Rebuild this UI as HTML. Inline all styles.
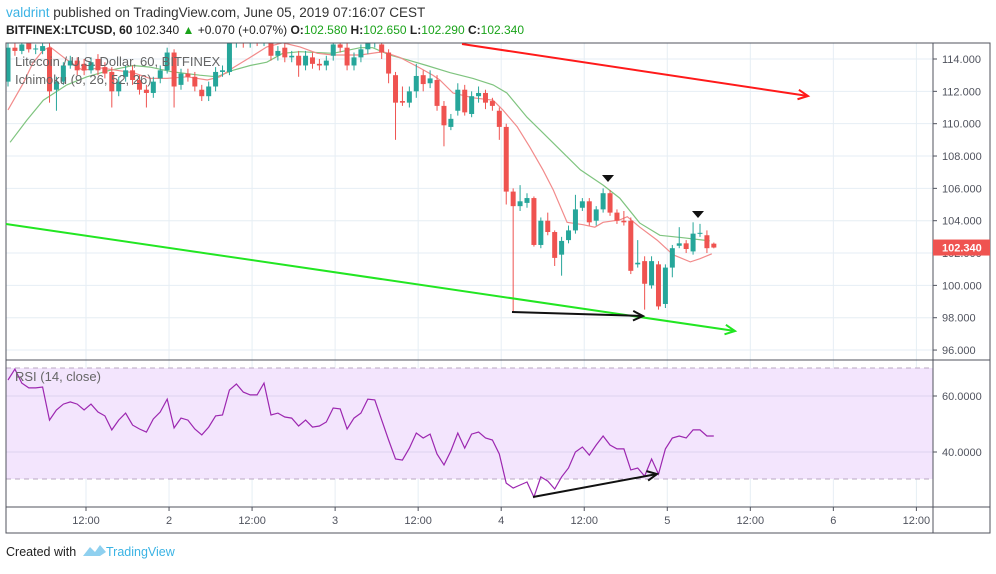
<!DOCTYPE html>
<html><head><meta charset="utf-8"><style>
body{margin:0;background:#fff;width:996px;height:569px;overflow:hidden;font-family:"Liberation Sans",sans-serif}
svg text{font-family:"Liberation Sans",sans-serif}
</style></head><body>
<svg id="c" width="996" height="569" xmlns="http://www.w3.org/2000/svg">
<defs>
<clipPath id="mainClip"><rect x="6" y="43" width="927" height="317"/></clipPath>
<clipPath id="rsiClip"><rect x="6" y="360" width="927" height="147"/></clipPath>
</defs>
<rect x="0" y="0" width="996" height="569" fill="#fff"/>
<text x="6" y="17" font-size="13.5"><tspan fill="#3bb3e4">valdrint</tspan><tspan fill="#333"> published on TradingView.com, June 05, 2019 07:16:07 CEST</tspan></text>
<text x="6" y="34" font-size="12" fill="#222"><tspan font-weight="bold">BITFINEX:LTCUSD, 60</tspan><tspan> 102.340 </tspan><tspan fill="#1aa31a">▲</tspan><tspan> +0.070 (+0.07%) </tspan><tspan font-weight="bold">O:</tspan><tspan fill="#1aa31a">102.580</tspan><tspan font-weight="bold"> H:</tspan><tspan fill="#1aa31a">102.650</tspan><tspan font-weight="bold"> L:</tspan><tspan fill="#1aa31a">102.290</tspan><tspan font-weight="bold"> C:</tspan><tspan fill="#1aa31a">102.340</tspan></text>
<g id="grid"></g>
<rect x="6" y="368" width="927" height="111" fill="#f3e5fd"/>
<line x1="6" y1="368" x2="933" y2="368" stroke="#b9a8c2" stroke-dasharray="5,4"/>
<line x1="6" y1="479" x2="933" y2="479" stroke="#b9a8c2" stroke-dasharray="5,4"/>
<g id="rsigrid"></g>
<g id="main" clip-path="url(#mainClip)"></g>
<g id="rsi" clip-path="url(#rsiClip)"></g>
<g id="axes"></g>
<rect x="6" y="43" width="984" height="490" fill="none" stroke="#50535e"/>
<line x1="933" y1="43" x2="933" y2="533" stroke="#50535e"/>
<line x1="6" y1="360" x2="990" y2="360" stroke="#50535e"/>
<line x1="6" y1="507" x2="990" y2="507" stroke="#50535e"/>
<text x="15" y="66" font-size="13" fill="#666">Litecoin / U.S. Dollar, 60, BITFINEX</text>
<text x="15" y="84" font-size="13" fill="#666">Ichimoku (9, 26, 52, 26)</text>
<text x="15" y="381" font-size="13" fill="#666">RSI (14, close)</text>
<text x="6" y="556" font-size="12.5" fill="#222">Created with</text>
<g><path d="M83 556 L90 547 L95 552 L100 545 L106 552 L100 556 Z" fill="#8fd0ef"/><text x="106" y="556" font-size="12.5" fill="#3bb3e4">TradingView</text></g>
</svg>
<script>
const opens=[112.6,114.7,114.5,115,114.6,114.5,114.7,112.1,112.6,113.6,113.9,113.7,113.3,114.0,113.5,113.2,112.0,112.9,113.3,112.7,112.1,111.9,112.8,113.3,114.4,112.4,113.1,112.9,112.1,111.7,112.3,113.2,113.2,115,115.3,115,115.2,115.1,115,114.2,114.7,114.1,114.2,113.6,114.1,113.7,113.6,114.2,114.9,114.7,113.6,114.1,114.6,115.0,114.9,114.4,113.0,111.4,111.3,112.0,113.0,112.5,112.7,111.1,109.8,110.8,112.1,110.6,111.7,111.9,111.4,110.8,109.8,105.8,104.9,105.1,105.4,102.5,104.0,103.3,101.9,102.8,103.4,104.8,105.2,104.0,104.7,105.7,104.5,104.0,104.0,101.3,101.5,100.0,101.3,98.85,101.1,102.45,102.6,102.1,103.2,103.1,102.58];
const closes=[114.7,114.5,114.9,114.6,114.65,114.8,112.0,112.6,113.6,113.9,113.3,113.3,113.8,113.3,113.1,112.0,112.6,113.3,112.7,112.1,111.9,112.6,113.3,114.4,112.3,113.1,112.9,112.3,111.7,112.3,113.2,113.3,115.0,115.3,115.0,115.2,115.1,115.2,114.2,114.5,114.1,114.2,113.6,114.2,113.7,113.6,113.9,114.9,114.7,113.6,114.1,114.6,115.0,115.1,114.4,113.1,111.3,111.3,112.0,112.95,112.45,112.8,111.1,109.9,110.3,112.1,110.7,111.7,111.9,111.3,111.1,109.8,105.8,104.9,105.2,105.4,102.5,104.0,103.3,101.7,102.75,103.4,104.7,105.2,103.9,104.7,105.7,104.5,104.0,103.9,100.9,101.4,100.1,101.5,98.7,101.1,102.3,102.6,102.25,103.2,103.25,102.3,102.34];
const highs=[115.2,115.1,115.2,115.3,114.9,115.2,115.0,112.9,113.8,114.2,114.1,114.0,114.1,114.3,113.8,113.5,112.9,113.6,113.6,113.0,112.4,112.9,113.6,114.7,114.6,113.4,113.4,113.2,112.4,112.6,113.5,113.6,115.4,115.6,115.6,115.5,115.5,115.5,115.3,114.8,115.0,114.5,114.5,114.5,114.4,114.0,114.2,115.2,115.2,115.0,114.4,114.9,115.3,115.4,115.2,114.6,113.2,112.3,112.3,113.7,113.3,113.3,113.0,111.4,110.6,112.5,112.4,112.0,112.3,112.1,111.6,111.0,110.0,106.0,106.2,105.7,105.5,104.2,104.5,103.4,103.0,103.7,105.6,105.4,105.4,104.9,106.0,105.9,104.7,104.6,104.2,102.8,101.8,101.8,101.5,101.3,102.5,103.6,102.8,103.9,103.8,103.4,102.65];
const lows=[112.3,114.2,114.3,114.4,114.3,114.3,111.3,110.8,112.4,113.4,113.0,113.0,113.1,113.0,112.8,111.0,111.7,112.6,112.4,111.8,111.0,111.6,112.5,113.1,111.0,112.1,112.6,112.0,111.4,111.4,112.0,112.9,113.0,114.7,114.7,114.7,114.8,114.8,113.9,113.9,113.8,113.8,112.9,113.3,113.4,113.3,113.3,113.9,114.4,113.3,113.3,113.8,114.3,114.7,114.0,112.5,109.0,111.1,111.0,111.6,112.0,112.2,110.8,108.6,109.6,110.5,110.5,110.4,111.3,110.9,110.8,109.0,105.0,98.3,104.6,104.8,102.4,102.3,103.1,101.2,100.6,102.6,103.2,104.6,103.7,103.7,104.5,104.3,103.8,103.7,100.7,101.1,98.5,99.8,98.5,98.6,100.5,102.3,102.0,101.9,103.0,102.0,102.29];
const tenkanT=[0,2.2,3.6,5.1,6.1,8.5,10.8,13.3,18.1,20.5,23,25.9,28.8,30.6,32.5,35,37.4,39.7,42.2,44.7,47,50.9,54.2,56.6,59.5,61.4,62.4,64.3,67.2,70.1,71.5,73.6,75.4,77.3,78.8,80.8,83.1,84.8,86,88.4,89.5,91.3,93.8,96.1,98.6,100,101.7];
const tenkanV=[110.85,112.5,113.75,114.55,114.75,113.95,113.3,113.45,113.15,112.8,112.8,112.9,112.7,112.9,113.45,114.1,114.75,115.0,114.75,114.35,114.25,114.25,114.45,114.1,113.45,113.0,112.7,111.9,111.6,111.45,110.85,109.8,108.55,107.15,105.9,103.9,103.75,103.6,103.9,104.05,104.25,103.6,102.8,101.9,101.45,101.65,101.95];
const kijunT=[0.3,2.7,5.1,8.5,11.4,14.7,18.1,20.5,23.8,27.7,30.2,32.5,35,37.4,39.7,42.2,47,50.9,52.7,55.2,57.7,60.5,63.9,67.2,70.1,72.1,75,76.9,82.7,86,88.4,91.3,94.2,97.5,101.4];
const kijunV=[108.85,110.2,111.45,112.4,112.9,113.3,113.6,113.5,113.2,113.0,112.9,113.3,113.6,113.8,114.35,114.45,114.35,114.7,114.7,114.25,113.95,113.6,113.15,112.8,112.4,111.9,110.4,109.6,107.15,106.2,105.4,103.85,103.1,102.95,102.75];
const rsiValues=[65.7,69.6,64.6,62.9,62.9,63.2,51.4,55,57.1,57.9,57.1,55,57.1,54.3,52.9,47.9,51.4,53.9,49.6,48.2,47.1,51.8,54.3,58.9,48.6,52.1,51.4,48.2,46.1,48.9,52.9,53.2,62.1,64.3,61.4,60.4,60.4,64.6,53.2,53.9,52.5,52.1,49.3,51.4,48.9,49.3,50.7,55.7,55.4,48.2,52.1,53.9,58.9,58.6,51.4,44.3,37.5,37.1,41.4,46.8,45,46.4,39.3,35.4,40.4,46.8,41.4,46.4,47.1,45,44.3,39.3,28.9,27.1,28.2,29.3,23.9,31.1,29.6,26.8,31.1,34.3,40,41.8,38.9,42.5,45.7,42.5,41.1,41.1,33.6,34.3,31.4,37.5,32.1,41.1,45,45.7,45,47.9,47.9,45.7,45.7];
const priceTicks=[114,112,110,108,106,104,102,100,98,96];
const rsiTicks=[60,40];
const timeLabels=["12:00","2","12:00","3","12:00","4","12:00","5","12:00","6","12:00"];
const timeHours=[12,24,36,48,60,72,84,96,108,120,132];
const lastPrice=102.34;

const NS="http://www.w3.org/2000/svg";
const xi=i=>8+6.92*i;
const xh=h=>86+6.92*(h-12);
const yP=p=>59+(114-p)*16.17;
const yR=r=>396+(60-r)*2.8;
function mk(tag,attrs,parent){const e=document.createElementNS(NS,tag);for(const k in attrs)e.setAttribute(k,attrs[k]);parent.appendChild(e);return e;}
const grid=document.getElementById('grid'),main=document.getElementById('main'),rsi=document.getElementById('rsi'),axes=document.getElementById('axes'),rg=document.getElementById('rsigrid');

priceTicks.forEach(p=>{
  const y=yP(p);
  const gl=mk('line',{x1:6,y1:y,x2:933,y2:y,stroke:'#e6eef4'},grid);
  
  
  mk('line',{x1:933,y1:y,x2:937,y2:y,stroke:'#50535e'},axes);
  const t=mk('text',{x:942,y:y+4,'font-size':11,fill:'#50535e'},axes);
  t.textContent=p.toFixed(3);
  
  
});
timeHours.forEach((h,k)=>{
  const x=xh(h);
  mk('line',{x1:x,y1:43,x2:x,y2:507,stroke:'#e6eef4'},grid);
  mk('line',{x1:x,y1:507,x2:x,y2:511,stroke:'#50535e'},axes);
  const t=mk('text',{x:x,y:524,'font-size':11,fill:'#50535e','text-anchor':'middle'},axes);
  t.textContent=timeLabels[k];
  
  
});
rsiTicks.forEach(r=>{
  const y=yR(r);
  mk('line',{x1:6,y1:y,x2:933,y2:y,stroke:'#ddd3ef'},rg);
  mk('line',{x1:933,y1:y,x2:937,y2:y,stroke:'#50535e'},axes);
  const t=mk('text',{x:942,y:y+4,'font-size':11,fill:'#50535e'},axes);
  t.textContent=r.toFixed(4);
  
  
});

function poly(T,V,color,w,parent,name,ys){
  const pts=T.map((t,k)=>xi(t).toFixed(1)+','+ys(V[k]).toFixed(1)).join(' ');
  const p=mk('polyline',{points:pts,fill:'none',stroke:color,'stroke-width':w},parent);
  
  
}
poly(kijunT,kijunV,'#7fc47f',1.2,main,'kijun-line',yP);
poly(tenkanT,tenkanV,'#f28b8b',1.2,main,'tenkan-line',yP);

opens.forEach((o,i)=>{
  const c=closes[i],x=xi(i),col=c>=o?'#26a69a':'#ef5350';
  const g=mk('g',{},main);
  
  
  mk('line',{x1:x,y1:yP(highs[i]),x2:x,y2:yP(lows[i]),stroke:col,'stroke-width':1},g);
  const top=yP(Math.max(o,c)),bot=yP(Math.min(o,c));
  mk('rect',{x:x-2.5,y:top,width:5,height:Math.max(1,bot-top),fill:col},g);
});

const rsiIdx=rsiValues.map((v,i)=>i);
poly(rsiIdx,rsiValues,'#9c27b0',1.2,rsi,'rsi-line',yR);

function arrow(x1,y1,x2,y2,col,w,parent,name){
  const g=mk('g',{},parent);
  
  
  mk('line',{x1,y1,x2,y2,stroke:col,'stroke-width':w},g);
  const a=Math.atan2(y2-y1,x2-x1),L=11;
  const p1=[x2-L*Math.cos(a-0.45),y2-L*Math.sin(a-0.45)],p2=[x2-L*Math.cos(a+0.45),y2-L*Math.sin(a+0.45)];
  mk('polyline',{points:`${p1} ${x2},${y2} ${p2}`,fill:'none',stroke:col,'stroke-width':w},g);
}
const ov=document.getElementById('c');
arrow(462,44,808,96,'#ff1a1a',2,ov,'resistance-trendline');
arrow(6,224,735,331,'#22e622',2,ov,'support-trendline');
arrow(512,312,643,316,'#111',2,ov,'price-divergence-arrow');
arrow(533,497,657,474,'#111',2,ov,'rsi-divergence-arrow');
[[608,179],[698,215]].forEach(([x,y])=>{
  const t=mk('polygon',{points:`${x-6},${y-4} ${x+6},${y-4} ${x},${y+3}`,fill:'#111'},ov);
  
  
});
const ly=yP(lastPrice);
const lb=mk('rect',{x:933,y:ly-8,width:57,height:16,fill:'#ef5350'},ov);


const lt=mk('text',{x:942,y:ly+4,'font-size':11,fill:'#fff','font-weight':'bold'},ov);
lt.textContent=lastPrice.toFixed(3);
</script>
</body></html>
